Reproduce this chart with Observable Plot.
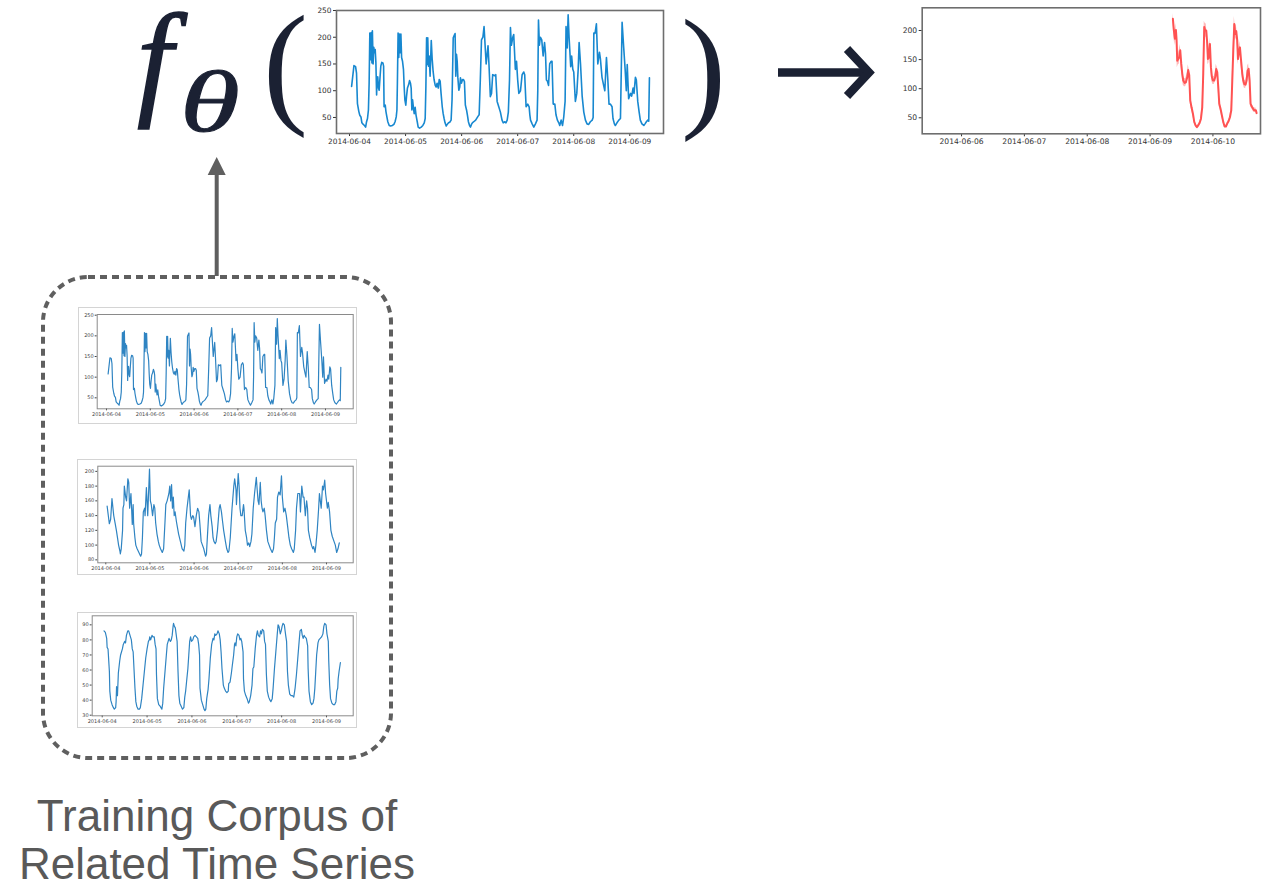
<!DOCTYPE html>
<html><head><meta charset="utf-8">
<script src="https://cdn.jsdelivr.net/npm/d3@7"></script>
<script src="https://cdn.jsdelivr.net/npm/@observablehq/plot@0.6"></script>
<style>
body{margin:0;background:#fff;}
#stage{position:relative;width:1266px;height:887px;overflow:hidden;background:#fff;}
.box{position:absolute;border:1px solid #d4d4d4;box-sizing:border-box;}
.plotwrap{position:absolute;}
</style></head><body><div id="stage"></div>
<script>
// ---------- DATA ----------
// Input series (hours since 2014-06-04 00:00) – also the first corpus series
const inputHours = [0.9,1.9,2.6,3.0,3.4,4.0,4.4,4.9,5.3,5.9,6.4,6.9,7.3,7.7,8.1,8.4,8.7,9.0,9.3,9.6,9.8,10.1,10.4,10.7,11.0,11.3,11.6,11.8,12.1,12.4,12.7,13.0,13.4,13.8,14.3,14.6,14.8,15.3,15.6,16.0,16.4,17.0,17.6,18.3,19.0,19.5,20.0,20.3,20.5,20.8,21.1,21.4,21.7,22.0,22.3,22.7,23.1,23.4,23.7,24.1,24.4,24.8,25.3,25.7,26.1,26.4,26.7,27.0,27.4,27.7,28.1,28.5,29.0,29.4,30.0,30.7,31.4,32.0,32.4,32.7,33.0,33.2,33.5,33.8,34.1,34.5,35.0,35.4,35.8,36.2,36.7,37.1,37.5,38.0,38.4,38.8,39.2,39.7,40.1,40.5,40.9,41.4,41.8,42.4,42.9,43.5,43.9,44.4,44.8,45.2,45.5,45.8,46.1,46.4,46.8,47.2,47.5,47.9,48.4,48.8,49.2,49.6,50.1,50.5,50.9,51.4,51.8,52.2,52.6,53.2,54.0,55.0,55.5,56.0,56.5,57.1,57.6,58.5,59.3,59.7,60.3,60.8,61.3,62.2,62.6,63.2,63.9,64.6,65.3,65.8,66.5,67.0,67.5,68.0,68.5,68.9,69.3,69.9,70.3,71.0,71.5,72.0,72.5,73.2,73.9,74.6,75.0,75.6,76.3,76.9,77.2,77.5,78.2,78.9,79.6,80.3,80.6,80.9,81.3,81.7,82.3,82.9,83.5,83.9,84.3,84.7,85.2,85.7,86.3,86.7,87.2,87.9,88.4,89.0,89.6,90.0,90.6,91.2,91.7,92.3,92.7,93.2,93.6,94.0,94.7,95.1,95.6,96.0,96.7,97.3,97.9,98.3,98.9,99.6,100.3,101.0,101.7,102.4,103.1,103.9,104.3,104.6,105.1,105.7,106.3,107.0,107.4,108.1,108.8,109.3,110.0,110.6,111.1,111.7,112.4,112.8,113.4,113.8,114.5,115.3,116.0,116.7,117.4,118.0,118.5,118.9,119.5,120.3,120.8,121.4,121.8,122.4,122.8,123.4,124.0,124.5,125.2,126.0,126.5,127.1,127.7,128.1,128.4];
const inputValues = [108,147,145,133,76,61,54,51,40,37,35,32,42,48,64,114,208,158,209,152,212,150,181,171,177,152,92,124,126,105,101,121,146,153,152,146,70,73,61,51,42,35,34,35,37,42,51,64,114,208,162,206,171,206,162,155,140,108,83,73,89,105,111,119,114,105,64,83,67,57,69,54,42,32,30,32,35,40,48,108,199,149,199,146,165,127,194,159,136,121,110,107,114,105,121,118,95,70,57,48,40,34,37,40,41,45,83,199,203,207,127,168,155,124,101,107,124,114,121,121,117,73,64,54,42,35,32,37,40,42,45,52,55,120,195,200,220,150,184,150,89,95,130,128,130,80,70,60,45,40,42,40,45,60,120,218,185,200,205,140,155,120,95,100,130,135,130,70,75,70,55,45,38,32,38,45,100,232,185,200,195,165,190,170,120,118,110,150,155,155,75,75,55,45,40,35,45,35,50,80,220,180,242,200,145,165,140,135,80,95,140,190,150,90,60,45,38,37,42,45,50,208,207,225,150,172,160,125,110,100,162,120,75,75,70,48,38,35,40,45,48,228,180,140,100,149,85,95,90,105,95,125,120,80,60,45,38,35,38,42,45,43,124];

// Corpus series 2 (days since 2014-06-04)
const corpus2Days = [0.03,0.08,0.11,0.14,0.18,0.21,0.24,0.27,0.29,0.32,0.33,0.35,0.38,0.39,0.41,0.42,0.45,0.47,0.50,0.52,0.54,0.57,0.60,0.62,0.63,0.66,0.68,0.71,0.75,0.79,0.81,0.83,0.85,0.88,0.89,0.92,0.95,0.99,1.01,1.03,1.06,1.09,1.11,1.13,1.16,1.19,1.21,1.24,1.28,1.31,1.34,1.36,1.39,1.41,1.43,1.45,1.47,1.49,1.51,1.53,1.55,1.57,1.60,1.62,1.65,1.69,1.73,1.77,1.79,1.81,1.84,1.86,1.89,1.92,1.94,1.97,1.99,2.02,2.05,2.08,2.11,2.13,2.16,2.19,2.22,2.26,2.28,2.31,2.33,2.36,2.38,2.41,2.43,2.45,2.48,2.50,2.53,2.57,2.59,2.62,2.65,2.67,2.71,2.74,2.77,2.79,2.82,2.84,2.86,2.90,2.92,2.95,2.96,3.00,3.02,3.04,3.06,3.09,3.12,3.13,3.16,3.19,3.21,3.24,3.26,3.29,3.31,3.34,3.37,3.41,3.43,3.45,3.47,3.50,3.52,3.54,3.56,3.59,3.61,3.64,3.67,3.70,3.73,3.77,3.80,3.82,3.84,3.87,3.89,3.92,3.95,3.98,4.00,4.03,4.06,4.09,4.12,4.15,4.18,4.21,4.25,4.27,4.30,4.32,4.35,4.39,4.41,4.44,4.47,4.49,4.52,4.55,4.57,4.59,4.62,4.66,4.69,4.71,4.74,4.76,4.79,4.82,4.84,4.86,4.88,4.91,4.93,4.96,4.98,5.02,5.04,5.07,5.10,5.13,5.17,5.20,5.23,5.26,5.29];
const corpus2Values = [153,129,135,163,140,130,120,108,100,92,88,95,120,150,155,180,165,160,190,185,150,170,128,155,130,110,100,95,90,85,88,110,145,150,140,178,140,203,160,155,140,155,150,130,115,105,100,95,90,95,130,155,160,165,170,180,160,182,150,165,140,145,132,125,115,105,95,92,100,130,150,160,175,140,135,140,138,125,140,150,145,130,105,100,95,85,88,120,140,155,140,125,110,105,102,105,120,150,155,145,130,120,105,95,90,92,110,130,150,180,190,175,155,197,180,150,140,140,155,150,120,110,100,103,98,105,115,150,170,192,175,160,155,185,160,150,145,150,140,120,105,100,95,90,95,110,130,135,165,172,168,194,165,145,150,140,125,110,100,95,90,95,120,150,170,170,145,180,165,165,140,160,150,120,110,100,95,98,90,100,120,148,170,160,150,180,175,188,170,150,158,145,120,112,105,100,90,95,103];

// Corpus series 3 (days since 2014-06-04)
const corpus3Days = [0.04,0.07,0.10,0.11,0.13,0.16,0.17,0.19,0.22,0.25,0.27,0.30,0.31,0.32,0.33,0.34,0.36,0.39,0.41,0.45,0.47,0.50,0.52,0.54,0.57,0.59,0.62,0.65,0.67,0.69,0.71,0.73,0.75,0.77,0.80,0.83,0.85,0.88,0.91,0.94,0.97,1.00,1.03,1.05,1.06,1.08,1.11,1.13,1.16,1.18,1.20,1.21,1.23,1.26,1.29,1.31,1.33,1.35,1.37,1.40,1.43,1.45,1.47,1.49,1.52,1.54,1.56,1.58,1.59,1.61,1.63,1.66,1.67,1.69,1.71,1.73,1.76,1.79,1.82,1.84,1.86,1.88,1.91,1.93,1.95,1.97,1.99,2.02,2.04,2.07,2.10,2.13,2.15,2.17,2.18,2.21,2.24,2.27,2.29,2.31,2.33,2.36,2.38,2.41,2.44,2.47,2.49,2.51,2.53,2.56,2.58,2.61,2.63,2.65,2.67,2.70,2.72,2.75,2.78,2.81,2.82,2.85,2.88,2.90,2.93,2.95,2.96,2.98,3.00,3.02,3.05,3.07,3.09,3.11,3.14,3.15,3.17,3.20,3.23,3.26,3.28,3.31,3.34,3.36,3.38,3.41,3.44,3.46,3.48,3.51,3.53,3.55,3.57,3.60,3.62,3.64,3.66,3.68,3.71,3.74,3.76,3.79,3.81,3.84,3.87,3.90,3.92,3.94,3.97,3.99,4.01,4.03,4.06,4.09,4.11,4.13,4.15,4.18,4.21,4.24,4.27,4.30,4.33,4.36,4.39,4.41,4.44,4.46,4.48,4.50,4.52,4.55,4.58,4.59,4.61,4.64,4.67,4.70,4.72,4.74,4.76,4.78,4.81,4.83,4.86,4.89,4.92,4.94,4.96,4.99,5.01,5.04,5.05,5.07,5.09,5.12,5.15,5.18,5.21,5.23,5.25,5.26,5.28,5.31];
const corpus3Values = [86,85,81,75,74,59,46,40,37,35,34,35,39,49,48,43,58,66,70,74,77,79,78,83,86,86,83,80,74,72,60,48,39,36,34,34,35,41,50,59,68,74,79,80,82,80,83,82,82,77,74,57,41,37,36,35,34,38,48,59,70,77,79,81,79,80,83,89,91,89,88,81,79,59,43,38,36,34,35,42,46,52,61,70,79,82,79,80,82,83,82,81,77,70,48,40,37,34,33,34,41,47,54,68,77,81,80,84,83,84,86,84,80,72,61,50,48,46,45,46,51,52,58,63,70,77,78,76,82,84,83,80,81,79,72,54,46,43,41,38,39,43,50,61,62,74,83,86,83,82,86,84,87,86,79,77,57,46,42,40,39,41,48,61,72,83,90,89,84,86,89,91,90,83,79,59,50,44,43,43,42,48,57,68,79,86,87,83,81,83,82,81,76,61,46,39,37,38,41,48,59,70,78,80,81,82,84,89,91,90,84,79,66,50,41,38,37,37,39,46,48,54,59,65];

// Forecast (days since 2014-06-09): median and uncertainty band
const forecastDays = [0.363,0.379,0.395,0.411,0.422,0.432,0.448,0.464,0.480,0.496,0.512,0.528,0.549,0.570,0.592,0.607,0.623,0.639,0.660,0.682,0.703,0.724,0.745,0.767,0.788,0.809,0.830,0.846,0.862,0.878,0.894,0.910,0.920,0.936,0.952,0.968,0.984,1.000,1.021,1.037,1.053,1.069,1.085,1.101,1.122,1.143,1.164,1.186,1.207,1.228,1.249,1.271,1.292,1.308,1.324,1.340,1.355,1.371,1.387,1.398,1.414,1.430,1.446,1.467,1.483,1.499,1.520,1.536,1.552,1.568,1.584,1.599,1.621,1.642,1.658,1.684,1.695];
const forecastMid = [220,200,186,201,183,148,151,154,166,143,126,114,110,111,120,132,123,80,68,57,43,37,34,37,41,48,68,126,206,200,200,177,151,154,177,137,120,114,114,120,134,128,103,74,65,54,43,35,35,40,44,51,63,114,166,211,194,199,183,151,163,171,151,126,114,108,107,114,131,134,114,74,69,65,63,63,58];
const forecastHigh = [229,212,198,212,194,160,161,166,176,153,134,122,117,118,128,141,132,86,73,61,45,39,36,39,43,51,73,135,216,212,211,188,161,164,187,146,128,121,121,128,142,136,109,79,69,57,45,37,37,42,46,54,68,122,176,224,206,211,194,161,173,181,161,134,121,115,114,121,139,143,121,79,73,69,67,67,62];
const forecastLow = [211,188,174,190,172,136,141,142,156,133,118,106,103,104,112,123,114,74,63,53,41,35,32,35,39,45,63,117,196,188,189,166,141,144,167,128,112,107,107,112,126,120,97,69,61,51,41,33,33,38,42,48,58,106,156,198,182,187,172,141,153,161,141,118,107,101,100,107,123,125,107,69,65,61,59,59,54];

// Tick labels
const inputXTicks = ["2014-06-04","2014-06-05","2014-06-06","2014-06-07","2014-06-08","2014-06-09"];
const forecastXTicks = ["2014-06-06","2014-06-07","2014-06-08","2014-06-09","2014-06-10"];
const inputYTicks = [50,100,150,200,250];
const forecastYTicks = [50,100,150,200];
const corpus2YTicks = [80,100,120,140,160,180,200];
const corpus3YTicks = [30,40,50,60,70,80,90];

const titleLines = ["Training Corpus of","Related Time Series"];

// ---------- HELPERS ----------
const DAY = 864e5, HOUR = 36e5;
const utc = s => new Date(s + "T00:00:00Z");
const fmt = d3.utcFormat("%Y-%m-%d");
const stage = document.getElementById("stage");

function shift(s, days){ return new Date(utc(s).getTime() + days*DAY); }

function chart(o){
  const data = o.t.map((t,i)=>({t, v:o.v[i], lo:o.lo?o.lo[i]:null, hi:o.hi?o.hi[i]:null}));
  const marks = [];
  if (o.lo) marks.push(Plot.areaY(data,{x:"t", y1:"lo", y2:"hi", fill:o.bandColor, fillOpacity:o.bandOpacity}));
  marks.push(Plot.line(data,{x:"t", y:"v", stroke:o.color, strokeWidth:o.sw, strokeLinejoin:"round"}));
  marks.push(Plot.frame({stroke:o.frameColor, strokeWidth:o.fw}));
  const svg = Plot.plot({
    width:o.w, height:o.h,
    marginLeft:o.ml, marginRight:o.mr, marginTop:o.mt, marginBottom:o.mb,
    x:{type:"utc", domain:o.xd, ticks:o.xt.map(utc), tickFormat:fmt, tickSize:o.ts, tickPadding:o.tp, label:null},
    y:{domain:o.yd, ticks:o.yt, tickSize:o.ts, tickPadding:o.tp, label:null},
    style:{background:"transparent", fontFamily:"DejaVu Sans", fontSize:o.fs+"px", color:o.textColor, overflow:"visible"},
    marks
  });
  if (o.border){
    const b = document.createElement("div");
    b.className = "box";
    Object.assign(b.style,{left:o.x+"px", top:o.y+"px", width:o.w+"px", height:o.h+"px"});
    stage.appendChild(b);
  }
  const wrap = document.createElement("div");
  wrap.className = "plotwrap";
  Object.assign(wrap.style,{left:o.x+"px", top:o.y+"px"});
  wrap.appendChild(svg);
  stage.appendChild(wrap);
}

const inputT = inputHours.map(h => new Date(utc("2014-06-04").getTime() + h*HOUR));
const c2T = corpus2Days.map(d => shift("2014-06-04", d));
const c3T = corpus3Days.map(d => shift("2014-06-04", d));
const fcT = forecastDays.map(d => shift("2014-06-09", d));

// Main input chart
chart({x:300, y:0, w:380, h:150, ml:36, mr:17, mt:10, mb:17,
  t:inputT, v:inputValues, color:"#1788d0", sw:1.6,
  xd:[shift("2014-06-04",-0.232), shift("2014-06-09",0.601)], xt:inputXTicks,
  yd:[20,250], yt:inputYTicks, ts:3, tp:2, fs:7.4, textColor:"#333",
  frameColor:"#6e6e6e", fw:1.6});

// Forecast chart
chart({x:880, y:0, w:386, h:150, ml:41.7, mr:6, mt:7.3, mb:16.7,
  t:fcT, v:forecastMid, lo:forecastLow, hi:forecastHigh,
  color:"#ff5252", sw:2, bandColor:"#ff8a8a", bandOpacity:0.6,
  xd:[shift("2014-06-06",-0.626), shift("2014-06-10",0.757)], xt:forecastXTicks,
  yd:[22.5,239], yt:forecastYTicks, ts:3, tp:2, fs:7.6, textColor:"#333",
  frameColor:"#6e6e6e", fw:1.6});

// Corpus thumbnails
chart({x:78, y:307, w:279, h:117, ml:18.7, mr:4.3, mt:7, mb:15.7, border:true,
  t:inputT, v:inputValues, color:"#2f84c2", sw:1.2,
  xd:[shift("2014-06-04",-0.212), shift("2014-06-09",0.633)], xt:inputXTicks,
  yd:[23.4,251.7], yt:inputYTicks, ts:2, tp:1.5, fs:5, textColor:"#444",
  frameColor:"#8a8a8a", fw:1});
chart({x:77, y:459, w:280, h:116, ml:20.3, mr:4.3, mt:6.7, mb:12.7, border:true,
  t:c2T, v:corpus2Values, color:"#2f84c2", sw:1.2,
  xd:[shift("2014-06-04",-0.181), shift("2014-06-09",0.605)], xt:inputXTicks,
  yd:[76,207], yt:corpus2YTicks, ts:2, tp:1.5, fs:5, textColor:"#444",
  frameColor:"#8a8a8a", fw:1});
chart({x:77, y:612, w:280, h:116, ml:14.7, mr:4.3, mt:3.3, mb:12.7, border:true,
  t:c3T, v:corpus3Values, color:"#2f84c2", sw:1.2,
  xd:[shift("2014-06-04",-0.223), shift("2014-06-09",0.595)], xt:inputXTicks,
  yd:[29.6,96], yt:corpus3YTicks, ts:2, tp:1.5, fs:5, textColor:"#444",
  frameColor:"#8a8a8a", fw:1});

// ---------- DECORATIONS ----------
const NS = "http://www.w3.org/2000/svg";
const deco = document.createElementNS(NS,"svg");
deco.setAttribute("width",1266); deco.setAttribute("height",887);
deco.style.cssText = "position:absolute;left:0;top:0;pointer-events:none";
deco.innerHTML = `
  <text x="137" y="102" font-family="Liberation Serif" font-style="italic" font-size="128" fill="#1b2133" stroke="#1b2133" stroke-width="1.6">f</text>
  <text transform="translate(180,131) scale(1.4,1)" font-family="Liberation Serif" font-style="italic" font-size="87" fill="#1b2133" stroke="#1b2133" stroke-width="1">θ</text>
  <text x="263" y="109" font-family="Liberation Serif" font-size="135" fill="#1b2133">(</text>
  <text x="681" y="113" font-family="Liberation Serif" font-size="135" fill="#1b2133">)</text>
  <path d="M778,72.5 H866" stroke="#1b2133" stroke-width="8.5" fill="none"/>
  <path d="M847,49 L869,72.5 L847,96" stroke="#1b2133" stroke-width="8.5" fill="none" stroke-linejoin="miter"/>
  <path d="M216.7,276 V172" stroke="#5f5f5f" stroke-width="4" fill="none"/>
  <path d="M216.7,157 L207.7,175 L225.7,175 Z" fill="#5f5f5f"/>
  <rect x="43" y="277" width="348" height="481" rx="45" ry="45" fill="none" stroke="#5f5f5f" stroke-width="4" stroke-dasharray="7 5"/>
  <text x="217" y="831" text-anchor="middle" font-family="Liberation Sans" font-size="44" fill="#595959">${titleLines[0]}</text>
  <text x="217" y="879" text-anchor="middle" font-family="Liberation Sans" font-size="44" fill="#595959">${titleLines[1]}</text>
`;
stage.appendChild(deco);
</script>
</body></html>
